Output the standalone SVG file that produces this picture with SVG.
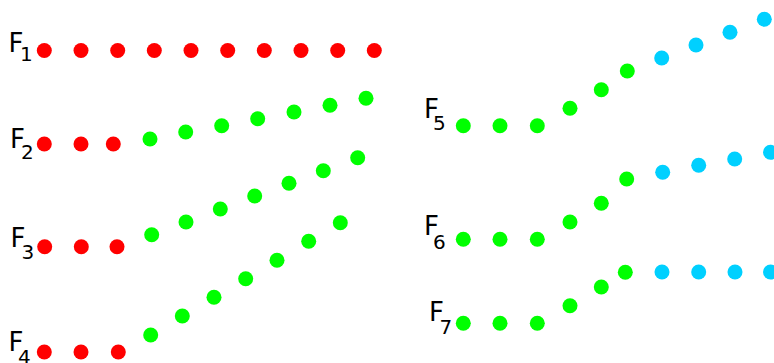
<svg xmlns="http://www.w3.org/2000/svg" width="774" height="363" viewBox="0 0 774 363">
<style>
.r{fill:#ff0000}.g{fill:#00ff00}.c{fill:#00d0ff}
.l{font-family:"DejaVu Sans",sans-serif;font-size:26px;fill:#000}
.s{font-family:"DejaVu Sans",sans-serif;font-size:20px;fill:#000}
</style>
<rect width="774" height="363" fill="#fff"/>
<g id="F1">
<text class="l" x="8.5" y="51.5">F</text><text class="s" x="20" y="60.5">1</text>
<g class="r">
<circle cx="44.3" cy="50.5" r="7.5"/><circle cx="81" cy="50.5" r="7.5"/><circle cx="117.7" cy="50.5" r="7.5"/><circle cx="154.3" cy="50.5" r="7.5"/><circle cx="191" cy="50.5" r="7.5"/><circle cx="227.7" cy="50.5" r="7.5"/><circle cx="264.3" cy="50.5" r="7.5"/><circle cx="301" cy="50.5" r="7.5"/><circle cx="337.7" cy="50.5" r="7.5"/><circle cx="374.3" cy="50.5" r="7.5"/>
</g>
</g>
<g id="F2">
<text class="l" x="10" y="148">F</text><text class="s" x="21" y="159">2</text>
<g class="r"><circle cx="44.3" cy="144" r="7.5"/><circle cx="81" cy="144" r="7.5"/><circle cx="113.3" cy="144" r="7.5"/></g>
<g class="g"><circle cx="150" cy="139" r="7.5"/><circle cx="185.7" cy="132" r="7.5"/><circle cx="221.7" cy="125.7" r="7.5"/><circle cx="257.7" cy="118.7" r="7.5"/><circle cx="294" cy="112" r="7.5"/><circle cx="330" cy="105.3" r="7.5"/><circle cx="366" cy="98.3" r="7.5"/></g>
</g>
<g id="F3">
<text class="l" x="10.5" y="247">F</text><text class="s" x="21.5" y="259">3</text>
<g class="r"><circle cx="44.7" cy="246.7" r="7.5"/><circle cx="81.3" cy="246.7" r="7.5"/><circle cx="117" cy="246.7" r="7.5"/></g>
<g class="g"><circle cx="151.7" cy="234.7" r="7.5"/><circle cx="186" cy="222" r="7.5"/><circle cx="220.3" cy="209" r="7.5"/><circle cx="254.7" cy="196" r="7.5"/><circle cx="289" cy="183.3" r="7.5"/><circle cx="323.3" cy="170.7" r="7.5"/><circle cx="357.7" cy="157.7" r="7.5"/></g>
</g>
<g id="F4">
<text class="l" x="8.5" y="351">F</text><text class="s" x="18" y="364">4</text>
<g class="r"><circle cx="44.3" cy="352" r="7.5"/><circle cx="81" cy="352" r="7.5"/><circle cx="118.3" cy="352" r="7.5"/></g>
<g class="g"><circle cx="150.7" cy="335" r="7.5"/><circle cx="182.3" cy="316" r="7.5"/><circle cx="214" cy="297.3" r="7.5"/><circle cx="245.7" cy="278.7" r="7.5"/><circle cx="277" cy="260.3" r="7.5"/><circle cx="308.7" cy="241.3" r="7.5"/><circle cx="340.3" cy="222.7" r="7.5"/></g>
</g>
<g id="F5">
<text class="l" x="424" y="117.5">F</text><text class="s" x="433" y="130">5</text>
<g class="g"><circle cx="463.3" cy="125.7" r="7.5"/><circle cx="500" cy="125.7" r="7.5"/><circle cx="537.3" cy="125.7" r="7.5"/><circle cx="570" cy="108.3" r="7.5"/><circle cx="601.3" cy="89.7" r="7.5"/><circle cx="627.3" cy="71" r="7.5"/></g>
<g class="c"><circle cx="661.7" cy="58" r="7.5"/><circle cx="696" cy="45" r="7.5"/><circle cx="730" cy="32.3" r="7.5"/><circle cx="764.3" cy="19.3" r="7.5"/></g>
</g>
<g id="F6">
<text class="l" x="424" y="235">F</text><text class="s" x="433" y="249">6</text>
<g class="g"><circle cx="463.3" cy="239.3" r="7.5"/><circle cx="500" cy="239.3" r="7.5"/><circle cx="537.3" cy="239.3" r="7.5"/><circle cx="570" cy="222" r="7.5"/><circle cx="601.3" cy="203.3" r="7.5"/><circle cx="626.7" cy="179" r="7.5"/></g>
<g class="c"><circle cx="662.7" cy="172.3" r="7.5"/><circle cx="698.7" cy="165.3" r="7.5"/><circle cx="734.7" cy="159" r="7.5"/><circle cx="770.5" cy="152.3" r="7.5"/></g>
</g>
<g id="F7">
<text class="l" x="429" y="321">F</text><text class="s" x="439.5" y="334">7</text>
<g class="g"><circle cx="463.3" cy="323.3" r="7.5"/><circle cx="500" cy="323.3" r="7.5"/><circle cx="537.3" cy="323.3" r="7.5"/><circle cx="570" cy="305.7" r="7.5"/><circle cx="601.3" cy="287" r="7.5"/><circle cx="625.3" cy="272.3" r="7.5"/></g>
<g class="c"><circle cx="662" cy="272" r="7.5"/><circle cx="698.7" cy="272" r="7.5"/><circle cx="735" cy="272" r="7.5"/><circle cx="770.5" cy="272" r="7.5"/></g>
</g>
<g id="connectors"/>
</svg>
